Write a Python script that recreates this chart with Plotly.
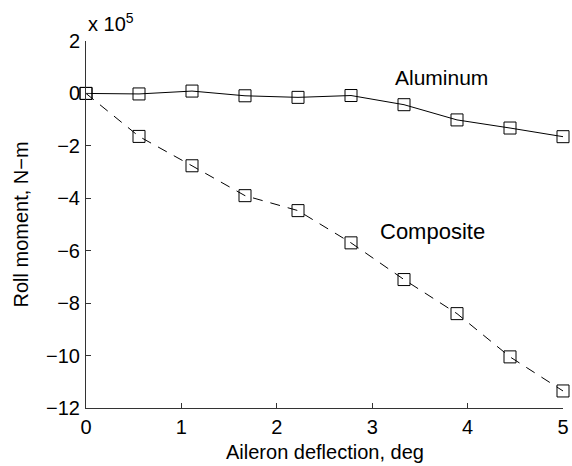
import plotly.graph_objects as go

deflection = [0, 0.5556, 1.1111, 1.6667, 2.2222, 2.7778, 3.3333, 3.8889, 4.4444, 5.0]
aluminum = [0.0, -0.02, 0.09, -0.09, -0.15, -0.08, -0.43, -1.01, -1.32, -1.65]
composite = [0.0, -1.64, -2.76, -3.9, -4.47, -5.7, -7.1, -8.4, -10.05, -11.35]

x_ticks = [0, 1, 2, 3, 4, 5]
y_ticks = [2, 0, -2, -4, -6, -8, -10, -12]

FONT = "Liberation Sans, Arial, Helvetica, sans-serif"

fig = go.Figure()
fig.add_trace(go.Scatter(
    x=deflection, y=aluminum, mode="lines+markers", name="Aluminum",
    line=dict(color="black", width=1),
    marker=dict(symbol="square-open", size=12, color="black", line=dict(width=1)),
    cliponaxis=False,
))
fig.add_trace(go.Scatter(
    x=deflection, y=composite, mode="lines+markers", name="Composite",
    line=dict(color="black", width=1, dash="10px,8px"),
    marker=dict(symbol="square-open", size=12, color="black", line=dict(width=1)),
    cliponaxis=False,
))

fig.add_annotation(x=3.73, y=0.6, text="Aluminum", showarrow=False,
                   font=dict(size=21, color="black", family=FONT))
fig.add_annotation(x=3.63, y=-5.25, text="Composite", showarrow=False,
                   font=dict(size=22, color="black", family=FONT))
fig.add_annotation(xref="paper", yref="paper", x=0.0, y=1.0, xanchor="left", yanchor="bottom",
                   yshift=4, text="x 10<sup>5</sup>", showarrow=False,
                   font=dict(size=20, color="black", family=FONT))
# axis titles
fig.add_annotation(xref="paper", yref="paper", x=0.5, y=0, yanchor="middle",
                   yshift=-44, text="Aileron deflection, deg", showarrow=False,
                   font=dict(size=20, color="black", family=FONT))
fig.add_annotation(xref="paper", yref="paper", x=0, y=0.5, xanchor="center",
                   xshift=-66, textangle=-90, text="Roll moment, N\u2212m", showarrow=False,
                   font=dict(size=20, color="black", family=FONT))

fig.update_layout(
    width=572, height=466,
    margin=dict(l=86, r=9, t=41, b=58, autoexpand=False),
    paper_bgcolor="white", plot_bgcolor="white",
    showlegend=False,
    font=dict(family=FONT, size=19, color="black"),
    xaxis=dict(range=[0, 5], tickvals=x_ticks, ticks="inside", ticklen=5,
               showgrid=False, zeroline=False, showline=True, linecolor="#333",
               linewidth=1, tickcolor="#333", tickfont=dict(size=20),
               ticklabelstandoff=1, ticklabeloverflow="allow", automargin=False),
    yaxis=dict(range=[-12, 2], tickvals=y_ticks, ticks="inside", ticklen=5,
               showgrid=False, zeroline=False, showline=True, linecolor="#333",
               linewidth=1, tickcolor="#333", tickfont=dict(size=20),
               ticklabelstandoff=1, ticklabeloverflow="allow", automargin=False),
)

fig.write_html("out.html", config={"displayModeBar": False},
               post_script="document.body.style.margin='0';document.body.style.overflow='hidden';")
